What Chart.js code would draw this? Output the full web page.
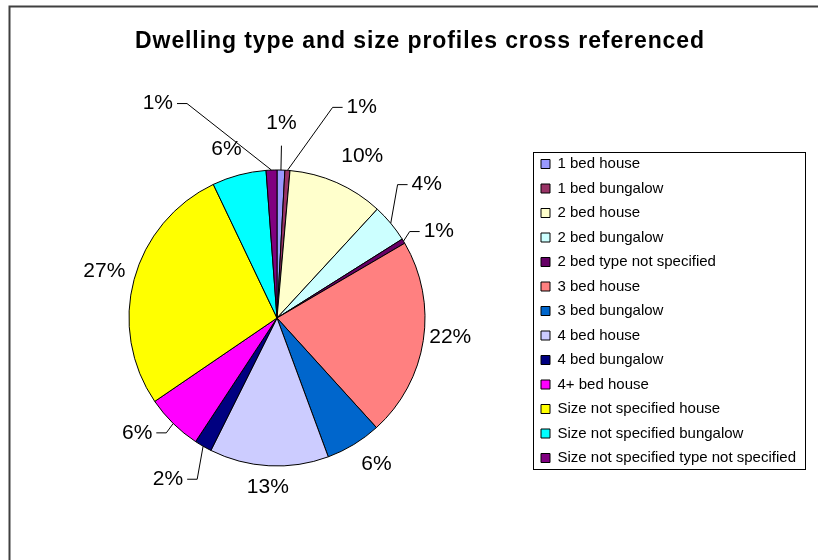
<!DOCTYPE html>
<html>
<head>
<meta charset="utf-8">
<script src="https://cdn.jsdelivr.net/npm/chart.js@4.4.1/dist/chart.umd.min.js"></script>
<style>
html,body{margin:0;padding:0;background:#fff;}
canvas{display:block;}
</style>
</head>
<body>
<canvas id="c" width="818" height="560"></canvas>
<script>
// ---- data ----
const titleText = 'Dwelling type and size profiles cross referenced';
const categories = [
  '1 bed house', '1 bed bungalow', '2 bed house', '2 bed bungalow',
  '2 bed type not specified', '3 bed house', '3 bed bungalow', '4 bed house',
  '4 bed bungalow', '4+ bed house', 'Size not specified house',
  'Size not specified bungalow', 'Size not specified type not specified'
];
const shares = [0.85, 0.55, 10.45, 4.2, 0.52, 21.7, 6.1, 13.0, 1.9, 6.2, 27.45, 5.9, 1.18];
const sliceColors = [
  '#9999FF', '#993366', '#FFFFCC', '#CCFFFF', '#660066', '#FF8080', '#0066CC',
  '#CCCCFF', '#000080', '#FF00FF', '#FFFF00', '#00FFFF', '#800080'
];

// ---- label layout (nudges from default outside position, leader flags) ----
const labelNudgeX = [0, 73, 15, 16, 13, -3, 10, 0, -23, -18, 0, -7, -113];
const labelNudgeY = [-28, -44, -3, -22, 4, -8, -1, 2, 12, -9, 0, -5, -48];
const leaderLine  = [1, 1, 0, 1, 1, 0, 0, 0, 1, 1, 0, 0, 1];

const FONT = '"Liberation Sans", Arial, Helvetica, sans-serif';
const W = 818, H = 560;
const PIE_CX = 277, PIE_CY = 318, PIE_R = 148;
const LEGEND_LEFT = 531.5;
const CA_TOP = 147;

const frame = {
  id: 'frame',
  beforeDraw(chart) {
    const ctx = chart.ctx;
    ctx.save();
    ctx.fillStyle = '#fff';
    ctx.fillRect(0, 0, W, H);
    ctx.strokeStyle = '#404040';
    ctx.lineWidth = 2;
    ctx.strokeRect(9.5, 6.5, W + 20, H + 20);
    ctx.restore();
  },
  afterDraw(chart) {
    const ctx = chart.ctx;
    // title
    ctx.save();
    ctx.fillStyle = '#000';
    ctx.font = 'bold 23px ' + FONT;
    try { ctx.letterSpacing = '0.9px'; } catch (e) {}
    ctx.textAlign = 'center';
    ctx.textBaseline = 'alphabetic';
    ctx.fillText(titleText, 420, 48);
    ctx.restore();
    // legend border
    const L = chart.legend;
    if (!L) return;
    const p = L.options.labels.padding;
    const fs = L.options.labels.font.size;
    const bw = L.options.labels.boxWidth;
    ctx.save();
    ctx.font = fs + 'px ' + FONT;
    let maxW = 0;
    L.legendItems.forEach(it => { maxW = Math.max(maxW, ctx.measureText(it.text).width); });
    const n = L.legendItems.length;
    const bx = L.left + p;
    const firstTop = L.top + p;
    const lastBottom = firstTop + n * fs + (n - 1) * p;
    const x0 = Math.round(bx - 8) + 0.5;
    const y0 = Math.round(firstTop - 4.5) + 0.5;
    const x1 = Math.round(bx + bw + fs / 2 + maxW + 9) + 0.5;
    const y1 = Math.round(lastBottom + 3) + 0.5;
    ctx.strokeStyle = '#000';
    ctx.lineWidth = 1;
    ctx.strokeRect(x0, y0, x1 - x0, y1 - y0);
    ctx.restore();
  }
};

const pieLabels = {
  id: 'pieLabels',
  afterDatasetsDraw(chart) {
    const meta = chart.getDatasetMeta(0);
    const ctx = chart.ctx;
    const total = shares.reduce((a, b) => a + b, 0);
    ctx.save();
    ctx.font = '21px ' + FONT;
    ctx.fillStyle = '#000';
    ctx.strokeStyle = '#000';
    ctx.lineWidth = 1;
    ctx.textAlign = 'center';
    ctx.textBaseline = 'middle';
    meta.data.forEach((arc, i) => {
      const pr = arc.getProps(['x', 'y', 'startAngle', 'endAngle', 'outerRadius'], true);
      const mid = (pr.startAngle + pr.endAngle) / 2;
      const txt = Math.round(shares[i] / total * 100) + '%';
      const hw = ctx.measureText(txt).width / 2, hh = 10;
      const c = Math.cos(mid), s = Math.sin(mid);
      const d = pr.outerRadius + 8 + hw * Math.abs(c) + hh * Math.abs(s);
      const lx = pr.x + c * d + labelNudgeX[i];
      const ly = pr.y + s * d + labelNudgeY[i];
      if (leaderLine[i]) {
        const ax = pr.x + c * pr.outerRadius, ay = pr.y + s * pr.outerRadius;
        ctx.beginPath();
        ctx.moveTo(ax, ay);
        if (Math.abs(lx - ax) < hw) {
          const ey = ly + (ay > ly ? 1 : -1) * (hh + 12);
          ctx.lineTo(lx, ey);
        } else {
          const dir = lx > ax ? 1 : -1;
          const ex = lx - dir * (hw + 4);
          const kx = ex - dir * 10;
          ctx.lineTo(kx, ly);
          ctx.lineTo(ex, ly);
        }
        ctx.stroke();
      }
      ctx.fillText(txt, lx, ly);
    });
    ctx.restore();
  }
};

const chart = new Chart(document.getElementById('c'), {
  type: 'pie',
  data: {
    labels: categories,
    datasets: [{
      data: shares,
      backgroundColor: sliceColors,
      borderColor: '#000',
      borderWidth: 1,
      radius: PIE_R
    }]
  },
  options: {
    responsive: false,
    animation: false,
    devicePixelRatio: 1,
    events: [],
    layout: {
      padding: {
        left: 2 * PIE_CX - LEGEND_LEFT,
        top: CA_TOP,
        right: 14,
        bottom: H - (2 * PIE_CY - CA_TOP)
      }
    },
    plugins: {
      title: { display: false },
      tooltip: { enabled: false },
      legend: {
        position: 'right',
        align: 'start',
        labels: {
          boxWidth: 9,
          boxHeight: 9,
          padding: 9.5,
          color: '#000',
          font: { size: 15, family: FONT }
        }
      }
    }
  },
  plugins: [frame, pieLabels]
});

for (let k = 0; k < 4; k++) {
  const diff = chart.chartArea.right - LEGEND_LEFT;
  if (Math.abs(diff) < 0.25) break;
  chart.options.layout.padding.right += diff;
  chart.update();
}
</script>
</body>
</html>
